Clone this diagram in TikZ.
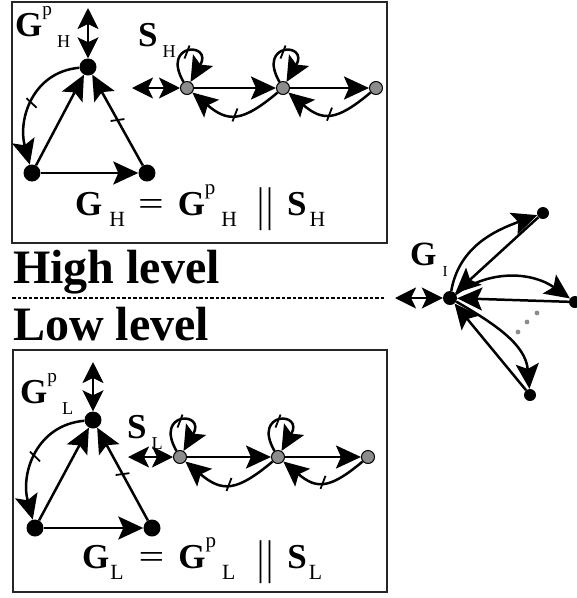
\documentclass[tikz,border=0pt]{standalone}
\usepackage{fontspec}
\setmainfont{Liberation Serif}
\usepackage{graphicx}
\usepackage{xcolor}
\usetikzlibrary{arrows.meta, decorations.markings}

\definecolor{stategray}{gray}{0.55}
\newcommand{\lowr}[2][0.55]{\raisebox{-0.34em}{\scalebox{#1}{\mdseries #2}}}
\newcommand{\upr}[2][0.6]{\raisebox{0.6em}{\scalebox{#1}{\mdseries #2}}}
\newcommand{\bars}{\raisebox{-0.16em}{\scalebox{1}[1.35]{\mdseries|\kern2pt|}}}
\newcommand{\eqsign}{\scalebox{1.3}[1]{\mdseries =}}

\begin{document}
\begin{tikzpicture}[x=1pt, y=1pt,
    arr/.style={-{Stealth[length=25pt,width=23pt,inset=5pt]}, line width=2.5pt},
    dbl/.style={{Stealth[length=21pt,width=21pt,inset=5pt]}-{Stealth[length=21pt,width=21pt,inset=5pt]}, line width=2.5pt},
    uc/.style={postaction={decorate, decoration={markings,
        mark=at position 0.5 with {\draw[-, line width=1.8pt] (-2.5pt,-6.5pt) -- (2.5pt,6.5pt);}}}},
    bnode/.style={circle, fill=black, minimum size=17pt, inner sep=0pt},
    snode/.style={circle, draw=black, line width=1pt, fill=stategray, minimum size=13pt, inner sep=0pt},
    frame/.style={draw=black!85, line width=1.5pt},
    lbl/.style={anchor=base west, inner sep=0pt, font=\fontsize{35}{35}\selectfont\bfseries},
    eqn/.style={anchor=base west, inner sep=0pt, font=\fontsize{35}{35}\selectfont\bfseries},
    level/.style={anchor=base west, inner sep=0pt, font=\fontsize{48}{48}\selectfont\bfseries}
  ]
    \useasboundingbox (0,0) rectangle (577,-598);

    % high level
    \draw[frame] (12,-2) rectangle (387,-243);
    \node[bnode] (hTop) at (88,-67) {};
    \node[bnode] (hLeft) at (32,-173) {};
    \node[bnode] (hRight) at (147,-173) {};
    \coordinate (hTopIn) at (88,-8);
    \node[lbl] (hPlant) at (15,-36) {G\upr[0.55]{p}\kern5pt\lowr[0.52]{H}};
    \node[snode] (hS1) at (187,-88) {};
    \node[snode] (hS2) at (283,-88) {};
    \node[snode] (hS3) at (376,-88) {};
    \coordinate (hSIn) at (132,-88);
    \node[lbl] (hSup) at (138,-46) {S\kern5pt\lowr[0.52]{H}};
    \node[eqn] (hEq) at (75,-215) {G\kern7pt\lowr[0.62]{H}\kern13pt\eqsign\kern14pt
      G\upr{p}\kern6pt\lowr[0.62]{H}\kern20pt\bars\kern14pt S\kern3pt\lowr[0.62]{H}};

    \draw[arr] (hLeft) -- (hRight);
    \draw[arr] (hLeft) -- (hTop);
    \draw[arr, uc] (hRight) -- (hTop);
    \draw[arr, uc] (hTop) to[out=185, in=105, looseness=1.1] (hLeft);
    \draw[dbl] (hTopIn) -- (hTop);
    \draw[dbl] (hSIn) -- (hS1);
    \draw[arr] (hS1) -- (hS2);
    \draw[arr] (hS2) -- (hS3);
    \draw[arr, uc] (hS2) to[out=-140, in=-40, looseness=1.4] (hS1);
    \draw[arr, uc] (hS3) to[out=-140, in=-40, looseness=1.4] (hS2);
    \draw[arr, uc] (hS1) to[out=120, in=60, min distance=46pt] (hS1);
    \draw[arr, uc] (hS2) to[out=120, in=60, min distance=46pt] (hS2);

    \node[level] (hiText) at (13,-283) {High level};
    \draw[line width=1.2pt, dash pattern=on 3.5pt off 2pt] (12,-298) -- (385,-298);
    \node[level] (loText) at (13,-340) {Low level};

    % interface
    \node[bnode, minimum size=14pt] (iC) at (450,-298) {};
    \node[bnode, minimum size=12pt] (iT) at (543,-213) {};
    \node[bnode, minimum size=12pt] (iR) at (575,-302) {};
    \node[bnode, minimum size=12pt] (iB) at (530,-395) {};
    \coordinate (iCIn) at (395,-298);
    \node[lbl, font=\fontsize{34}{34}\selectfont\bfseries] (iLbl) at (410,-265) {G\kern6pt\lowr[0.45]{I}};
    \draw[dbl] (iCIn) -- (iC);
    \draw[arr] (iC) to[out=80, in=200] (iT);
    \draw[arr] (iT) -- (iC);
    \draw[arr] (iC) to[out=35, in=145] (iR);
    \draw[arr] (iR) -- (iC);
    \draw[arr] (iC) to[out=-30, in=95] (iB);
    \draw[arr] (iB) -- (iC);
    \fill[stategray] (537,-313) circle (2.4pt) (527,-322) circle (2.4pt) (518,-332) circle (2.4pt);

    % low level
    \draw[frame] (13,-350) rectangle (387,-592);
    \node[bnode] (lTop) at (93,-420) {};
    \node[bnode] (lLeft) at (35,-528) {};
    \node[bnode] (lRight) at (152,-528) {};
    \coordinate (lTopIn) at (93,-362);
    \node[lbl] (lPlant) at (20,-403) {G\upr[0.55]{p}\kern5pt\lowr[0.52]{L}};
    \node[snode] (lS1) at (180,-457) {};
    \node[snode] (lS2) at (278,-457) {};
    \node[snode] (lS3) at (368,-457) {};
    \coordinate (lSIn) at (128,-457);
    \node[lbl] (lSup) at (127,-438) {S\kern5pt\lowr[0.52]{L}};
    \node[eqn] (lEq) at (82,-568) {G\kern1pt\lowr[0.62]{L}\kern15pt\eqsign\kern14pt
      G\upr{p}\kern6pt\lowr[0.62]{L}\kern22pt\bars\kern14pt S\kern2pt\lowr[0.62]{L}};

    \draw[arr] (lLeft) -- (lRight);
    \draw[arr] (lLeft) -- (lTop);
    \draw[arr, uc] (lRight) -- (lTop);
    \draw[arr, uc] (lTop) to[out=185, in=105, looseness=1.1] (lLeft);
    \draw[dbl] (lTopIn) -- (lTop);
    \draw[dbl] (lSIn) -- (lS1);
    \draw[arr] (lS1) -- (lS2);
    \draw[arr] (lS2) -- (lS3);
    \draw[arr, uc] (lS2) to[out=-140, in=-40, looseness=1.4] (lS1);
    \draw[arr, uc] (lS3) to[out=-140, in=-40, looseness=1.4] (lS2);
    \draw[arr, uc] (lS1) to[out=120, in=60, min distance=46pt] (lS1);
    \draw[arr, uc] (lS2) to[out=120, in=60, min distance=46pt] (lS2);
\end{tikzpicture}
\end{document}
